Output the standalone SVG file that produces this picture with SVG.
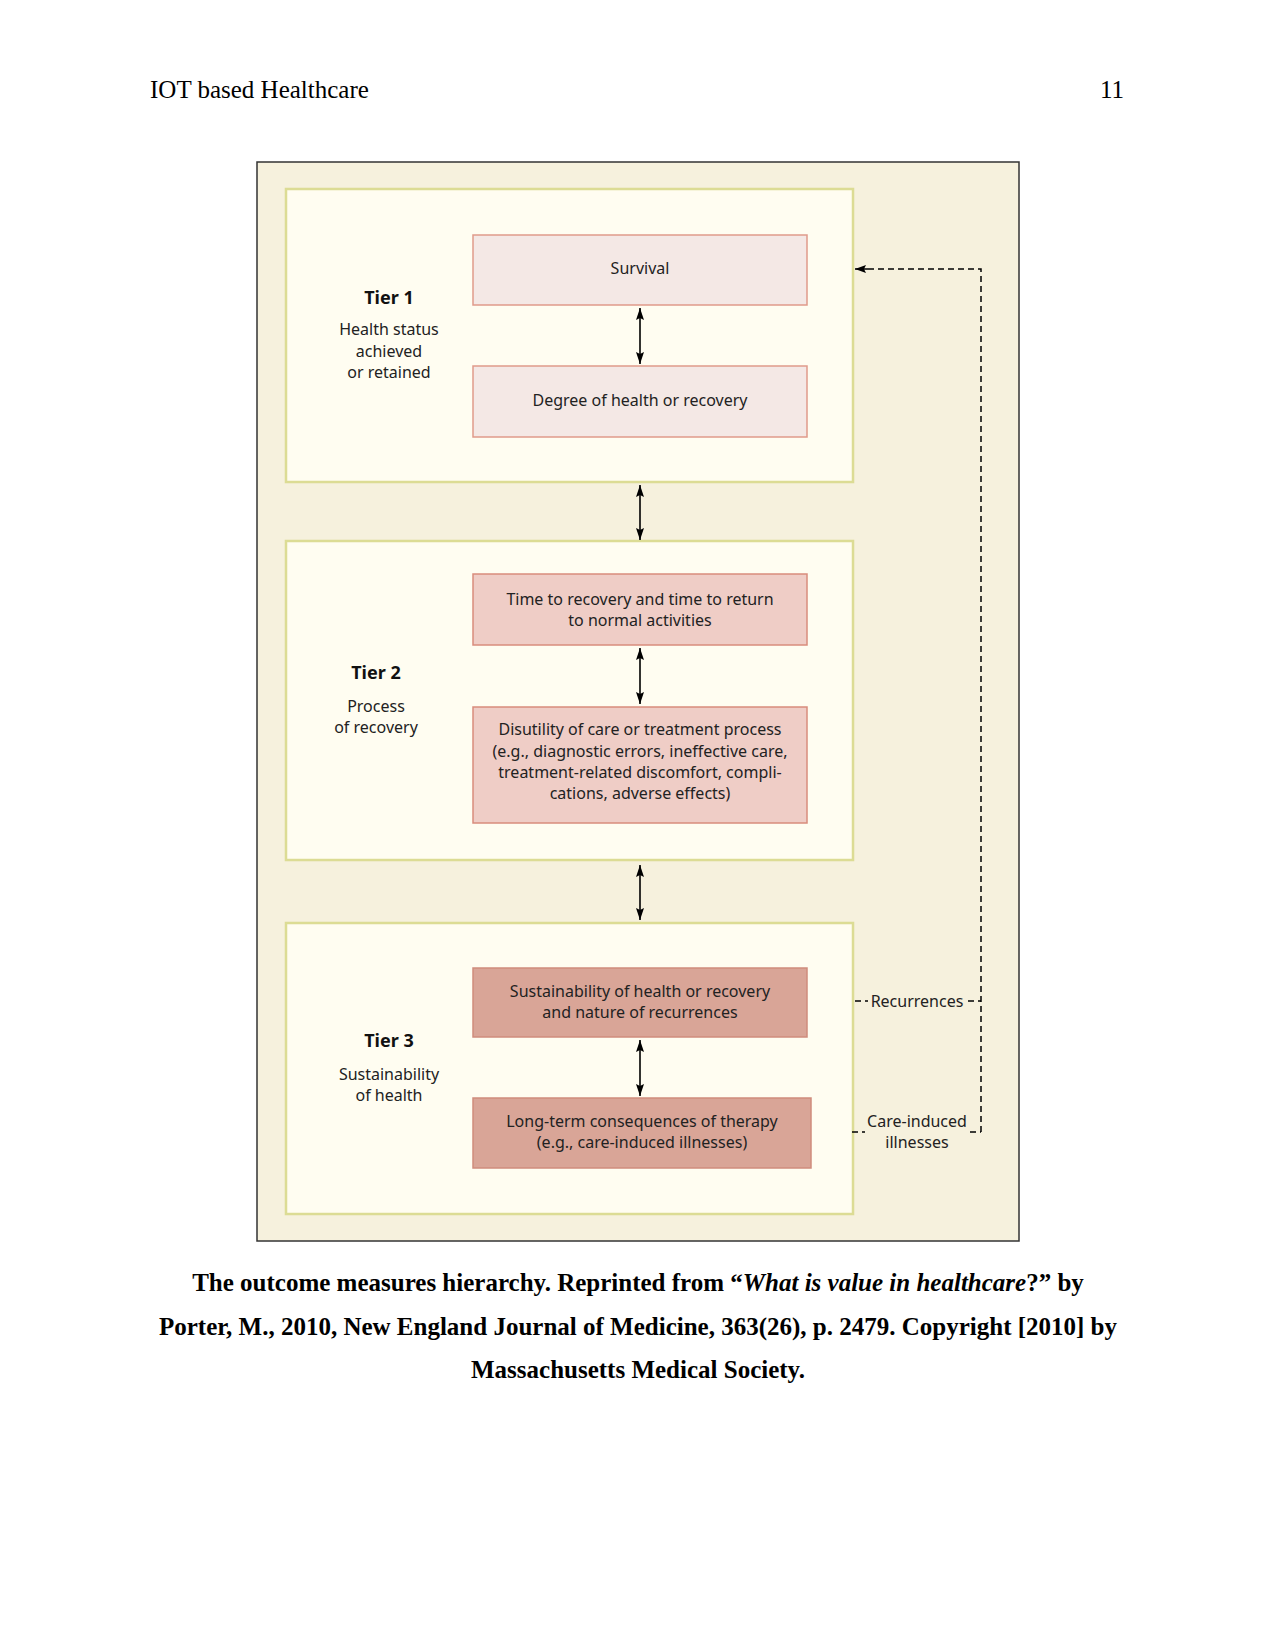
<svg xmlns="http://www.w3.org/2000/svg" width="1275" height="1650" viewBox="0 0 1275 1650">
<style>
.hdr{font-family:"Liberation Serif",serif;font-size:25px;fill:#000}
.cap{font-family:"Liberation Serif",serif;font-size:25px;font-weight:bold;fill:#000;text-anchor:middle}
.t{font-family:"Noto Sans",sans-serif;font-size:16px;fill:#222;text-anchor:middle}
.tb{font-family:"Noto Sans",sans-serif;font-size:18px;font-weight:bold;fill:#111;text-anchor:middle}
.tier{fill:#fffdf1;stroke:#dcdc94;stroke-width:2.5}
.b1{fill:#f4e8e5;stroke:#e09a8a;stroke-width:1.5}
.b2{fill:#efcdc6;stroke:#d98c7c;stroke-width:1.5}
.b3{fill:#d9a597;stroke:#cf8c7c;stroke-width:1.5}
.arr{stroke:#000;stroke-width:1.6;fill:none}
.dash{stroke:#000;stroke-width:1.5;fill:none;stroke-dasharray:6,4}
</style>
<defs>
<marker id="ah" viewBox="0 0 12 8" refX="12" refY="4" markerWidth="12" markerHeight="8" orient="auto-start-reverse" markerUnits="userSpaceOnUse">
<path d="M0,0 L12,4 L0,8 L2,4 z" fill="#000"/>
</marker>
<marker id="ah2" viewBox="0 0 11 8" refX="11" refY="4" markerWidth="11" markerHeight="8" orient="auto" markerUnits="userSpaceOnUse">
<path d="M0,0 L11,4 L0,8 L2,4 z" fill="#000"/>
</marker>
</defs>
<rect width="1275" height="1650" fill="#fff"/>
<text class="hdr" x="150" y="98">IOT based Healthcare</text>
<text class="hdr" x="1124" y="98" text-anchor="end">11</text>

<rect x="257" y="162" width="762" height="1079" fill="#f6f1dd" stroke="#333" stroke-width="1.5"/>

<g id="tier1">
<rect class="tier" x="286" y="189" width="567" height="293"/>
<text class="tb" x="389" y="304">Tier 1</text>
<text class="t" x="389" y="335">Health status</text>
<text class="t" x="389" y="357">achieved</text>
<text class="t" x="389" y="378">or retained</text>
</g>
<g id="survival">
<rect class="b1" x="473" y="235" width="334" height="70"/>
<text class="t" x="640" y="274">Survival</text>
</g>
<g id="degree">
<rect class="b1" x="473" y="366" width="334" height="71"/>
<text class="t" x="640" y="406">Degree of health or recovery</text>
</g>

<g id="tier2">
<rect class="tier" x="286" y="541" width="567" height="319"/>
<text class="tb" x="376" y="679">Tier 2</text>
<text class="t" x="376" y="712">Process</text>
<text class="t" x="376" y="733">of recovery</text>
</g>
<g id="time">
<rect class="b2" x="473" y="574" width="334" height="71"/>
<text class="t" x="640" y="605">Time to recovery and time to return</text>
<text class="t" x="640" y="626">to normal activities</text>
</g>
<g id="disutility">
<rect class="b2" x="473" y="707" width="334" height="116"/>
<text class="t" x="640" y="735">Disutility of care or treatment process</text>
<text class="t" x="640" y="757">(e.g., diagnostic errors, ineffective care,</text>
<text class="t" x="640" y="778">treatment-related discomfort, compli-</text>
<text class="t" x="640" y="799">cations, adverse effects)</text>
</g>

<g id="tier3">
<rect class="tier" x="286" y="923" width="567" height="291"/>
<text class="tb" x="389" y="1047">Tier 3</text>
<text class="t" x="389" y="1080">Sustainability</text>
<text class="t" x="389" y="1101">of health</text>
</g>
<g id="sustain">
<rect class="b3" x="473" y="968" width="334" height="69"/>
<text class="t" x="640" y="997">Sustainability of health or recovery</text>
<text class="t" x="640" y="1018">and nature of recurrences</text>
</g>
<g id="longterm">
<rect class="b3" x="473" y="1098" width="338" height="70"/>
<text class="t" x="642" y="1127">Long-term consequences of therapy</text>
<text class="t" x="642" y="1148">(e.g., care-induced illnesses)</text>
</g>

<g id="connectors">
<line class="arr" x1="640" y1="308" x2="640" y2="364" marker-start="url(#ah)" marker-end="url(#ah)"/>
<line class="arr" x1="640" y1="485" x2="640" y2="540" marker-start="url(#ah)" marker-end="url(#ah)"/>
<line class="arr" x1="640" y1="648" x2="640" y2="704" marker-start="url(#ah)" marker-end="url(#ah)"/>
<line class="arr" x1="640" y1="865" x2="640" y2="920" marker-start="url(#ah)" marker-end="url(#ah)"/>
<line class="arr" x1="640" y1="1040" x2="640" y2="1096" marker-start="url(#ah)" marker-end="url(#ah)"/>
<path class="dash" d="M981,1132 L981,269 L864,269"/>
<line x1="868" y1="269" x2="855" y2="269" stroke="#000" stroke-width="1.5" marker-end="url(#ah2)"/>
<path class="dash" d="M855,1001 L868,1001"/>
<path class="dash" d="M968,1001 L981,1001"/>
<path class="dash" d="M852,1132 L865,1132"/>
<path class="dash" d="M970,1132 L981,1132"/>
<text class="t" x="917" y="1007">Recurrences</text>
<text class="t" x="917" y="1127">Care-induced</text>
<text class="t" x="917" y="1148">illnesses</text>
</g>

<text class="cap" x="638" y="1291">The outcome measures hierarchy. Reprinted from “<tspan font-style="italic">What is value in healthcare</tspan>?” by</text>
<text class="cap" x="638" y="1335">Porter, M., 2010, New England Journal of Medicine, 363(26), p. 2479. Copyright [2010] by</text>
<text class="cap" x="638" y="1378">Massachusetts Medical Society.</text>
</svg>
